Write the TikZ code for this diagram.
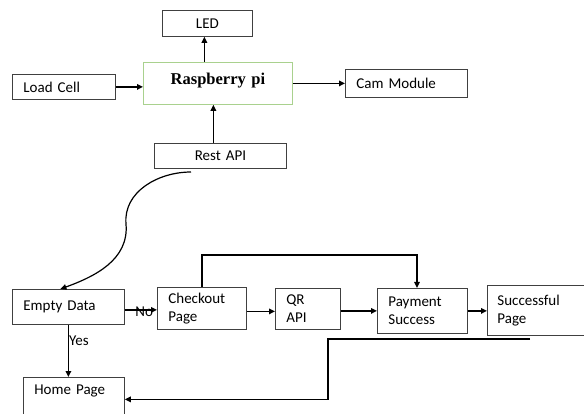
\documentclass[tikz,border=0pt]{standalone}
\usepackage{fontspec}
\setmainfont{Carlito}
\newfontfamily\rpifont{Liberation Serif}
\usetikzlibrary{arrows.meta}
\definecolor{boxline}{HTML}{404040}
\definecolor{rpigreen}{HTML}{A9D18E}
\tikzset{
        block/.style={draw=boxline, line width=.8pt, anchor=north west, align=left,
          inner xsep=11pt, inner ysep=0pt, font=\fontsize{15}{18}\selectfont}, % box with text on the left
        flow/.style={line width=1.5pt, -{Triangle[length=6pt,width=5.5pt]}},
        lbl/.style={font=\fontsize{15}{18}\selectfont, inner sep=0pt}
    }

\begin{document}
\begin{tikzpicture}[x=1pt, y=-1pt]
\useasboundingbox (0,0) rectangle (584,414);
\clip (0,0) rectangle (584,414);
% upper part: the board and what hangs on it
\node[block, text width=68pt, align=center, minimum height=26pt] (led) at (162,10) {LED};
\node[block, draw=rpigreen, text width=127pt, align=center, minimum height=42pt, text depth=10pt,
  font=\rpifont\bfseries\fontsize{16.5}{18}\selectfont] (rpi) at (143,62) {Raspberry pi};
\node[block, text width=81pt, minimum height=25pt] (load) at (12,74) {Load Cell};
\node[block, text width=100pt, minimum height=28pt] (cam) at (345,69) {Cam Module};
\node[block, text width=110pt, align=center, minimum height=25pt] (rest) at (154,143) {Rest API};
% lower part: the pages
\node[block, text width=90pt, minimum height=35pt] (empty) at (12,289) {Empty Data};
\node[block, text width=67pt, minimum height=42pt] (checkout) at (157,287) {Checkout\\Page};
\node[block, text width=43pt, minimum height=41pt] (qr) at (275,288) {QR\\API};
\node[block, text width=68pt, minimum height=45pt] (pay) at (377,288) {Payment\\Success};
\node[block, text width=82pt, minimum height=50pt, inner xsep=10pt] (succ) at (487,285) {Successful\\Page};
\node[block, text width=79pt, minimum height=44pt, text depth=20pt] (home) at (23,377) {Home Page};

\draw[flow] (load.east) -- (load.east -| rpi.west);
\draw[flow] ([xshift=-3pt]led.south |- rpi.north) -- ([xshift=-3pt]led.south);
\draw[flow] (rpi.east |- cam.west) -- (cam.west);
\draw[flow] ([xshift=-7pt]rest.north) -- ([xshift=-7pt]rest.north |- rpi.south);
% the s-curve down to the first page
\coordinate (restout) at (191,172);
\coordinate (bend) at (126,224);
\draw[flow, line width=1.2pt] (restout) to[out=180, in=95] (bend)
  to[out=-85, in=20] ([xshift=-8pt]empty.north);
\draw[flow] ([yshift=-3pt]empty.east) -- ([yshift=-3pt]empty.east -| checkout.west)
  node[lbl, pos=.6, yshift=-2pt] {No};
\draw[flow] (empty.south) -- (empty.south |- home.north)
  node[lbl, pos=.3, right] {Yes};
\draw[flow] ([yshift=-3pt]checkout.east) -- ([yshift=-3pt]checkout.east -| qr.west);
\coordinate (loop) at (417,255);
\draw[flow] (checkout.north) |- (loop) -- (loop |- pay.north);
\draw[flow] ([yshift=-2pt]qr.east) -- ([yshift=-2pt]qr.east -| pay.west);
\draw[flow] (pay.east) -- (pay.east -| succ.west);
% way back to the home page
\coordinate (back) at (530,339);
\coordinate (drop) at (328,339);
\draw[flow] (back) -- (drop) |- (home.east);
\end{tikzpicture}
\end{document}
